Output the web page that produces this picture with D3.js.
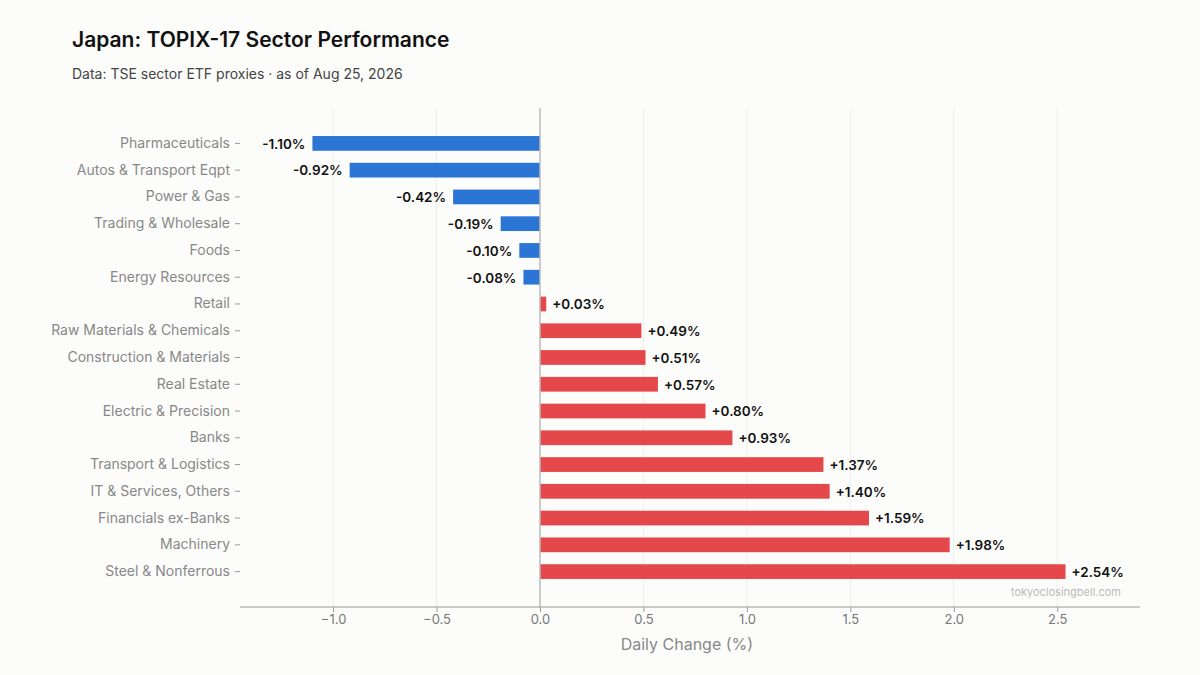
<!DOCTYPE html>
<html><head><meta charset="utf-8">
<script src="https://cdn.jsdelivr.net/npm/d3@7"></script>
<style>body{margin:0;background:#fcfcfb;font-family:Inter,sans-serif}</style>
</head><body><div id="chart"></div>
<script>
// Dados
const sectors = ["Pharmaceuticals","Autos & Transport Eqpt","Power & Gas","Trading & Wholesale","Foods","Energy Resources","Retail","Raw Materials & Chemicals","Construction & Materials","Real Estate","Electric & Precision","Banks","Transport & Logistics","IT & Services, Others","Financials ex-Banks","Machinery","Steel & Nonferrous"];
const changes = [-1.10,-0.92,-0.42,-0.19,-0.10,-0.08,0.03,0.49,0.51,0.57,0.80,0.93,1.37,1.40,1.59,1.98,2.54];
const xTicks = [-1.0,-0.5,0,0.5,1.0,1.5,2.0,2.5];

const W = 1200, H = 675;
const margin = {top: 108, right: 60, bottom: 68, left: 240};

const svg = d3.select("#chart").append("svg").attr("width", W).attr("height", H)
  .style("background", "#fcfcfb");

const x = d3.scaleLinear().domain([-1.45, 2.9]).range([margin.left, W - margin.right]);
const y = d3.scaleBand().domain(sectors).range([124, 591]).padding(0.45);

// Título
svg.append("text").attr("x", 72).attr("y", 47).text("Japan: TOPIX-17 Sector Performance")
  .attr("font-size", 21).attr("font-weight", 600).attr("fill", "#111");
svg.append("text").attr("x", 72).attr("y", 79).text("Data: TSE sector ETF proxies · as of Aug 25, 2026")
  .attr("font-size", 14).attr("fill", "#444");

// Grade
svg.append("g").selectAll("line").data(xTicks.filter(d => d !== 0)).join("line")
  .attr("x1", d => x(d)).attr("x2", d => x(d)).attr("y1", margin.top).attr("y2", H - margin.bottom)
  .attr("stroke", "#eee").attr("stroke-width", 1);

// Barras
svg.append("g").selectAll("rect").data(sectors).join("rect")
  .attr("x", (d, i) => x(Math.min(0, changes[i])))
  .attr("y", d => y(d))
  .attr("width", (d, i) => Math.abs(x(changes[i]) - x(0)))
  .attr("height", y.bandwidth())
  .attr("fill", (d, i) => changes[i] < 0 ? "#2b75d4" : "#e5484a");

// Linha zero
svg.append("line").attr("x1", x(0)).attr("x2", x(0)).attr("y1", margin.top).attr("y2", H - margin.bottom)
  .attr("stroke", "#bbb").attr("stroke-width", 1.5);

// Rótulos
svg.append("g").selectAll("text").data(sectors).join("text")
  .attr("x", (d, i) => x(changes[i]) + (changes[i] < 0 ? -7 : 6))
  .attr("y", d => y(d) + y.bandwidth() / 2 + 1)
  .attr("dy", "0.32em")
  .attr("text-anchor", (d, i) => changes[i] < 0 ? "end" : "start")
  .attr("font-size", 13.5).attr("font-weight", 600).attr("fill", "#111")
  .text((d, i) => (changes[i] > 0 ? "+" : "") + changes[i].toFixed(2) + "%");

// Eixos
const xAxis = svg.append("g").attr("transform", `translate(0,${H - margin.bottom})`)
  .call(d3.axisBottom(x).tickValues(xTicks).tickSize(5).tickFormat(d3.format(".1f")));
xAxis.select(".domain").attr("d", `M${margin.left},0H${W - margin.right}`).attr("stroke", "#999");
xAxis.selectAll(".tick line").attr("stroke", "#999");
xAxis.selectAll("text").attr("fill", "#777").attr("font-size", 13).attr("font-family", "Inter")
  .text(d => d === 0 ? "0.0" : d3.format(".1f")(d).replace("-", "\u2212"));

const yAxis = svg.append("g").attr("transform", `translate(${margin.left},0)`)
  .call(d3.axisLeft(y).tickSize(5).tickPadding(5));
yAxis.select(".domain").remove();
yAxis.selectAll(".tick line").attr("stroke", "#999");
yAxis.selectAll("text").attr("fill", "#888").attr("font-size", 14).attr("font-family", "Inter");

svg.append("text").attr("x", x(0.71)).attr("y", 650).attr("text-anchor", "middle")
  .attr("font-size", 16).attr("fill", "#888").text("Daily Change (%)");

svg.append("text").attr("x", 1121).attr("y", 596).attr("text-anchor", "end")
  .attr("font-size", 11).attr("fill", "#bbb").text("tokyoclosingbell.com");
</script></body></html>
